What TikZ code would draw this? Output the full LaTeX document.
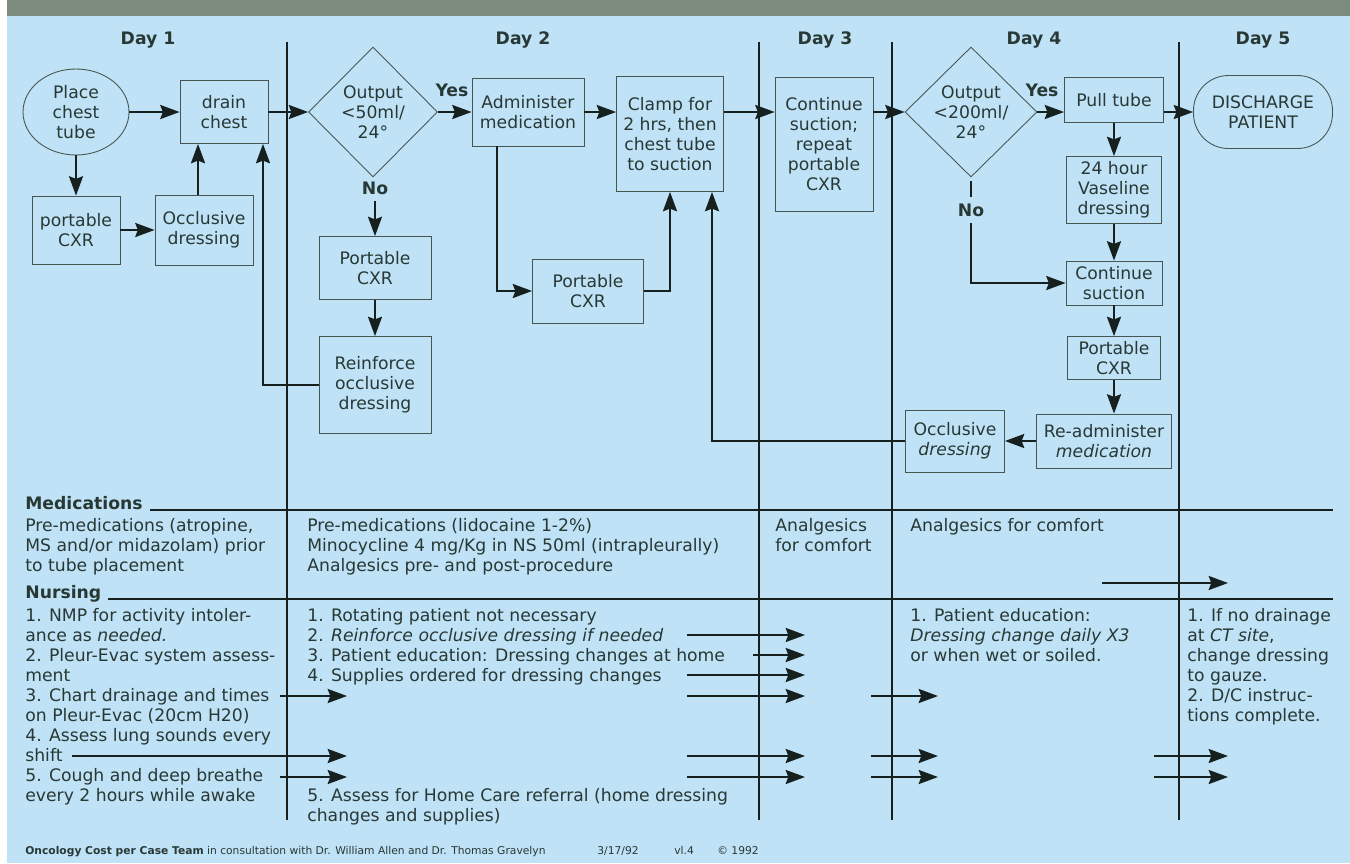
\documentclass[tikz,border=0pt]{standalone}
\usepackage{fontspec}
\setmainfont{DejaVu Sans}
\usetikzlibrary{arrows.meta,shapes.geometric,positioning}
\definecolor{sheet}{RGB}{192,226,246}
\definecolor{band}{RGB}{124,139,126}
\definecolor{ink}{RGB}{40,56,53}
\definecolor{rule}{RGB}{22,32,30}

\begin{document}
\begin{tikzpicture}[x=0.02cm,y=-0.02cm,
    font=\fontsize{9.8}{11.34}\selectfont, text=ink,
    box/.style={draw=ink!85, line width=0.5pt, align=center, inner sep=1pt},
    arr/.style={rule, line width=1.2pt, -{Stealth[length=11pt,width=8pt,inset=1.5pt]}},
    wire/.style={rule, line width=1.2pt},
    sep/.style={rule, line width=0.9pt},
    lbl/.style={font=\fontsize{9.8}{11.34}\selectfont\bfseries},
    txt/.style={anchor=base west, align=left, inner sep=0pt},
    small/.style={font=\fontsize{6.1}{7}\selectfont, anchor=base west, inner sep=0pt}]
    % sheet
    \fill[white] (0,0) rectangle (1350,863);
    \fill[sheet] (7,0) rectangle (1350,863);
    \fill[band] (7,0) rectangle (1350,16);
    \useasboundingbox (0,0) rectangle (1350,863);
    % day columns
    \foreach \x in {287,759,892,1179}
      \draw[sep] (\x,42) -- (\x,820);
    \draw[sep, line width=0.6pt] (150,510) -- (1333,510);
    \draw[sep, line width=0.6pt] (108,599) -- (1333,599);
    \node[lbl, anchor=base] (day1) at (148,44) {Day 1};
    \node[lbl, anchor=base] (day2) at (523,44) {Day 2};
    \node[lbl, anchor=base] (day3) at (825,44) {Day 3};
    \node[lbl, anchor=base] (day4) at (1034,44) {Day 4};
    \node[lbl, anchor=base] (day5) at (1263,44) {Day 5};

    % day 1
    \node[box, ellipse, minimum width=2.12cm, minimum height=1.72cm] (place) at (76,112) {Place\\chest\\tube};
    \node[box, minimum width=1.76cm, minimum height=1.26cm] (drain) at (224,112) {drain\\chest};
    \node[box, minimum width=1.76cm, minimum height=1.36cm] (cxrA) at (76,230) {portable\\CXR};
    \node[box, minimum width=1.96cm, minimum height=1.40cm] (occA) at (204,230) {Occlusive\\dressing};
    % day 2
    \node[box, diamond, inner sep=0pt, minimum width=2.58cm, minimum height=2.6cm] (decA) at (373,112) {Output\\<50ml/\\24°};
    \node[lbl] (yesA) at (452,90) {Yes};
    \node[lbl] (noA) at (375,188) {No};
    \node[box, minimum width=2.24cm, minimum height=1.26cm] (cxrB) at (375,268) {Portable\\CXR};
    \node[box, minimum width=2.24cm, minimum height=1.94cm] (reinf) at (375,385) {Reinforce\\occlusive\\dressing};
    \node[box, minimum width=2.24cm, minimum height=1.36cm] (admin) at (528,112) {Administer\\medication};
    \node[box, minimum width=2.14cm, minimum height=2.30cm] (clamp) at (670,134) {Clamp for\\2 hrs, then\\chest tube\\to suction};
    \node[box, minimum width=2.22cm, minimum height=1.28cm] (cxrC) at (588,291) {Portable\\CXR};
    % day 3
    \node[box, minimum width=1.96cm, minimum height=2.68cm] (suctA) at (824,144) {Continue\\suction;\\repeat\\portable\\CXR};
    % day 4
    \node[box, diamond, inner sep=0pt, minimum width=2.64cm, minimum height=2.6cm] (decB) at (971,112) {Output\\<200ml/\\24°};
    \node[lbl] (yesB) at (1042,90) {Yes};
    \node[lbl] (noB) at (971,210) {No};
    \node[box, minimum width=1.98cm, minimum height=0.90cm] (pull) at (1114,100) {Pull tube};
    \node[box, minimum width=1.90cm, minimum height=1.34cm] (vasel) at (1114,190) {24 hour\\Vaseline\\dressing};
    \node[box, minimum width=1.92cm, minimum height=0.88cm] (suctB) at (1114,283) {Continue\\suction};
    \node[box, minimum width=1.86cm, minimum height=0.86cm] (cxrD) at (1114,358) {Portable\\CXR};
    \node[box, minimum width=2.70cm, minimum height=1.08cm] (readm) at (1104,441) {Re-administer\\\textit{medication}};
    \node[box, minimum width=1.98cm, minimum height=1.24cm] (occB) at (955,441) {Occlusive\\\textit{dressing}};
    % day 5
    \node[box, rounded corners=0.7cm, minimum width=2.78cm, minimum height=1.46cm] (disch) at (1263,112) {DISCHARGE\\PATIENT};

    % flow
    \draw[arr] (place) -- (drain);
    \draw[arr] (place) -- (cxrA);
    \draw[arr] (cxrA) -- (occA);
    \draw[arr] ([xshift=-0.12cm]occA.north) -- ([xshift=-0.12cm]occA.north |- drain.south);
    \draw[arr] (reinf.west) -| ([xshift=0.78cm]drain.south);
    \draw[arr] (drain) -- (decA);
    \draw[arr] (noA) -- (cxrB);
    \draw[arr] (cxrB) -- (reinf);
    \draw[arr] (decA) -- (admin);
    \draw[arr] (admin) -- (admin.east -| clamp.west);
    \draw[arr] ([xshift=-0.62cm]admin.south) |- (cxrC);
    \draw[arr] (cxrC) -| (clamp);
    \draw[arr] (occB) -| ([xshift=0.84cm]clamp.south);
    \draw[arr] (clamp.east |- admin) -- (suctA.west |- admin);
    \draw[arr] (suctA.east |- decB) -- (decB);
    \draw[arr] (decB) -- (decB.east -| pull.west);
    \draw[wire, shorten <=2pt] (decB.south) -- (noB.north);
    \draw[arr] (noB) |- (suctB);
    \draw[arr] (pull) -- (vasel);
    \draw[arr] (vasel) -- (suctB);
    \draw[arr] (suctB) -- (cxrD);
    \draw[arr] (cxrD) -- (cxrD.south |- readm.north);
    \draw[arr] (readm) -- (occB);
    \draw[arr] (pull.east |- disch) -- (disch);

    % medications (y = baseline of last line)
    \node[txt, lbl] (medh) at (25,509) {Medications};
    \node[txt] (med1) at (25,571) {Pre-medications (atropine,\\MS and/or midazolam) prior\\to tube placement};
    \node[txt] (med2) at (307,571) {Pre-medications (lidocaine 1-2\%)\\Minocycline 4 mg/Kg in NS 50ml (intrapleurally)\\Analgesics pre- and post-procedure};
    \node[txt] (med3) at (775,551) {Analgesics\\for comfort};
    \node[txt] (med4) at (910,531) {Analgesics for comfort};
    % nursing
    \node[txt, lbl] (nurh) at (25,598) {Nursing};
    \node[txt] (nur1) at (25,801) {1. NMP for activity intoler-\\ance as \textit{needed.}\\2. Pleur-Evac system assess-\\ment\\3. Chart drainage and times\\on Pleur-Evac (20cm H20)\\4. Assess lung sounds every\\shift\\5. Cough and deep breathe\\every 2 hours while awake};
    \node[txt] (nur2) at (307,681) {1. Rotating patient not necessary\\2. \textit{Reinforce occlusive dressing if needed}\\3. Patient education: Dressing changes at home\\4. Supplies ordered for dressing changes};
    \node[txt] (nur2b) at (307,821) {5. Assess for Home Care referral (home dressing\\changes and supplies)};
    \node[txt] (nur4) at (910,661) {1. Patient education:\\\textit{Dressing change daily X3}\\or when wet or soiled.};
    \node[txt] (nur5) at (1187,721) {1. If no drainage\\at \textit{CT site},\\change dressing\\to gauze.\\2. D/C instruc-\\tions complete.};
    % carried over
    \foreach \y/\a/\b [count=\i] in {583/1102/1228, 696/280/347, 756/72/347, 777/280/347,
        635/687/805, 655/753/805, 675/687/805, 696/687/805, 756/687/805, 777/687/805,
        696/871/938, 756/871/938, 777/871/938, 756/1154/1228, 777/1154/1228} {
      \coordinate (go\i) at (\a,\y);
      \coordinate (to\i) at (\b,\y);
      \draw[arr] (go\i) -- (to\i);
    }

    % footer
    \node[small] (team) at (25,854) {\textbf{Oncology Cost per Case Team} in consultation with Dr. William Allen and Dr. Thomas Gravelyn};
    \node[small] (date) at (597,854) {3/17/92};
    \node[small] (vers) at (674,854) {vl.4};
    \node[small] (copy) at (717,854) {© 1992};
  \end{tikzpicture}
\end{document}
